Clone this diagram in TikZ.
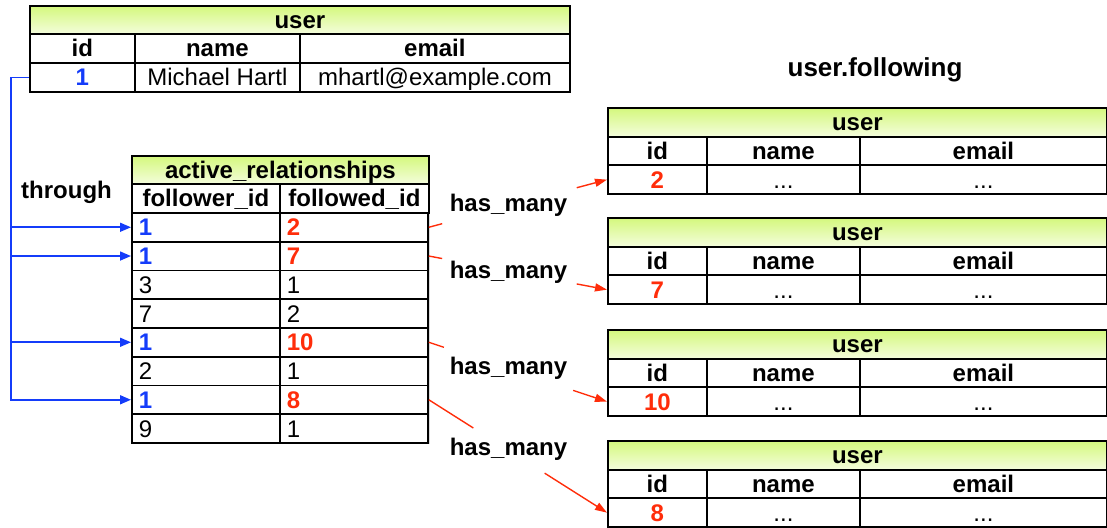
\documentclass[tikz,border=0pt]{standalone}
\usepackage{fontspec}
\setmainfont{Liberation Sans}
\usetikzlibrary{shadows,calc,arrows.meta}
\definecolor{relblue}{RGB}{20,60,250}
\definecolor{relred}{RGB}{255,45,10}
\definecolor{hdrtop}{RGB}{212,248,125}
\definecolor{hdrbot}{RGB}{244,253,220}
\newcommand\tsz{\fontsize{24}{28}\selectfont}
\begin{document}
\begin{tikzpicture}[x=1pt,y=-1pt,
  cell/.style={draw=black, line width=1.8pt, inner sep=0pt, anchor=north west,
    font=\tsz, text height=17pt, text depth=0pt, fill=white},
  hdrcell/.style={cell, top color=hdrtop, bottom color=hdrbot, font=\tsz\bfseries},
  bcell/.style={cell, font=\tsz\bfseries},
  lcell/.style={cell, align=left, inner xsep=7pt, text width=134pt, minimum height=28.75pt},
  blueid/.style={text=relblue, font=\tsz\bfseries},
  redid/.style={text=relred, font=\tsz\bfseries},
  tshadow/.style={fill=white, draw=none, inner sep=0pt, anchor=north west,
    drop shadow={shadow xshift=1.5pt, shadow yshift=-2pt, opacity=0.3}},
  bluearr/.style={draw=relblue, line width=1.6pt, -{Triangle[length=11pt,width=9pt]}},
  redline/.style={draw=relred, line width=1.4pt},
  redarr/.style={redline, -{Triangle[length=12pt,width=8pt]}},
  lbl/.style={font=\tsz\bfseries, inner sep=0pt, text height=17pt, text depth=0pt}
]
\useasboundingbox (0,0) rectangle (1107,527);

% ---------- top user table ----------
\node[tshadow, minimum width=540pt, minimum height=86pt] (u0bg) at (29,5) {};
\node[hdrcell, minimum width=540pt, minimum height=28pt] (u0h) at (29,5) {user};
\node[bcell, minimum width=105pt, minimum height=29pt] (u0c1) at (29,33) {id};
\node[bcell, minimum width=165pt, minimum height=29pt] (u0c2) at (134,33) {name};
\node[bcell, minimum width=270pt, minimum height=29pt] (u0c3) at (299,33) {email};
\node[cell, blueid, minimum width=105pt, minimum height=29pt] (u0d1) at (29,62) {1};
\node[cell, minimum width=165pt, minimum height=29pt] (u0d2) at (134,62) {Michael Hartl};
\node[cell, minimum width=270pt, minimum height=29pt] (u0d3) at (299,62) {mhartl@example.com};

% ---------- active_relationships ----------
\node[tshadow, minimum width=297pt, minimum height=287pt] (arbg) at (131,155) {};
\node[hdrcell, minimum width=297pt, minimum height=28pt] (arh) at (131,155) {active\_relationships};
\node[bcell, minimum width=148pt, minimum height=29pt] (arc1) at (131,183) {follower\_id};
\node[bcell, minimum width=149pt, minimum height=29pt] (arc2) at (279,183) {followed\_id};

\node[lcell, blueid] (arf1) at (131,212)    {1};
\node[lcell, redid]  (art1) at (279,212)    {2};
\node[lcell, blueid] (arf2) at (131,240.75) {1};
\node[lcell, redid]  (art2) at (279,240.75) {7};
\node[lcell]         (arf3) at (131,269.5)  {3};
\node[lcell]         (art3) at (279,269.5)  {1};
\node[lcell]         (arf4) at (131,298.25) {7};
\node[lcell]         (art4) at (279,298.25) {2};
\node[lcell, blueid] (arf5) at (131,327)    {1};
\node[lcell, redid]  (art5) at (279,327)    {10};
\node[lcell]         (arf6) at (131,355.75) {2};
\node[lcell]         (art6) at (279,355.75) {1};
\node[lcell, blueid] (arf7) at (131,384.5)  {1};
\node[lcell, redid]  (art7) at (279,384.5)  {8};
\node[lcell]         (arf8) at (131,413.25) {9};
\node[lcell]         (art8) at (279,413.25) {1};

% ---------- user.following tables ----------
\node[lbl, font=\fontsize{26}{30}\selectfont\bfseries, text height=19pt] (uf) at (875,67) {user.following};

\foreach \t/\y/\v in {1/107/2, 2/217/7, 3/329/10, 4/440/8}{
  \node[tshadow, minimum width=499pt, minimum height=86pt] (f\t bg) at (607,\y) {};
  \node[hdrcell, minimum width=499pt, minimum height=28.7pt] (f\t h) at (607,\y) {user};
  \node[bcell, minimum width=99pt,  minimum height=28.7pt] (f\t c1) at (607,\y+28.7) {id};
  \node[bcell, minimum width=153pt, minimum height=28.7pt] (f\t c2) at (706,\y+28.7) {name};
  \node[bcell, minimum width=247pt, minimum height=28.7pt] (f\t c3) at (859,\y+28.7) {email};
  \node[cell, redid, minimum width=99pt,  minimum height=28.7pt] (f\t d1) at (607,\y+57.4) {\v};
  \node[cell, minimum width=153pt, minimum height=28.7pt] (f\t d2) at (706,\y+57.4) {...};
  \node[cell, minimum width=247pt, minimum height=28.7pt] (f\t d3) at (859,\y+57.4) {...};
}

% ---------- labels ----------
\node[lbl] (thr) at (66.5,190) {through};
\node[lbl] (hm1) at (508.5,203) {has\_many};
\node[lbl] (hm2) at (508.5,270) {has\_many};
\node[lbl] (hm3) at (508.5,366) {has\_many};
\node[lbl] (hm4) at (508.5,447) {has\_many};

% ---------- blue "through" connectors ----------
\coordinate (trunk) at ($(u0d1.west)+(-18,0)$);
\draw[bluearr] (u0d1.west) -- (trunk) |- (arf1.west);
\draw[bluearr] (trunk) |- (arf2.west);
\draw[bluearr] (trunk) |- (arf5.west);
\draw[bluearr] (trunk) |- (arf7.west);

% ---------- red has_many connectors ----------
\draw[redline] (art1.east) -- ($(art1.east)!0.075!(f1d1.west)$);
\draw[redarr]  ($(art1.east)!0.83!(f1d1.west)$) -- (f1d1.west);
\draw[redline] (art2.east) -- ($(art2.east)!0.075!(f2d1.west)$);
\draw[redarr]  ($(art2.east)!0.83!(f2d1.west)$) -- (f2d1.west);
\draw[redline] (art5.east) -- ($(art5.east)!0.085!(f3d1.west)$);
\draw[redarr]  ($(art5.east)!0.81!(f3d1.west)$) -- (f3d1.west);
\draw[redline] (art7.east) -- ($(art7.east)!0.25!(f4d1.west)$);
\draw[redarr]  ($(art7.east)!0.65!(f4d1.west)$) -- (f4d1.west);
\end{tikzpicture}
\end{document}
